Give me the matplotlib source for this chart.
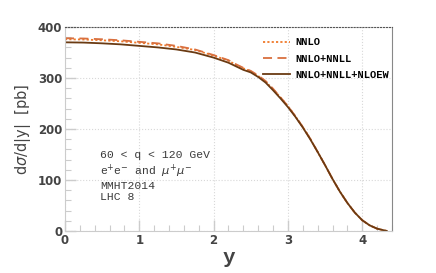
import matplotlib
matplotlib.use("Agg")
import matplotlib.pyplot as plt
from matplotlib.ticker import MultipleLocator

# rapidity points and cross sections (pb)
y = [0.0, 0.25, 0.5, 0.75, 1.0, 1.25, 1.5, 1.75, 2.0, 2.1, 2.2, 2.3, 2.4,
     2.5, 2.6, 2.7, 2.8, 2.9, 3.0, 3.1, 3.2, 3.3, 3.4, 3.5, 3.6, 3.7, 3.8,
     3.9, 4.0, 4.1, 4.2, 4.3, 4.33]
ew = [370, 369.5, 368, 366, 363, 360, 356, 350, 340, 335, 330, 323, 316,
      311, 302, 291, 276, 260, 243, 224, 203, 180, 155, 129, 102, 77, 55,
      36, 21, 11, 4.5, 1, 0]
nnlo = [376, 375.5, 374, 372, 369, 366, 361, 355, 344, 339, 334, 326, 319,
        313, 304, 293, 278, 262, 245, 225, 204, 181, 155, 129, 102, 77, 55,
        36, 21, 11, 4.5, 1, 0]
nnll = [378, 377.5, 376, 374, 371, 368, 363, 356, 345, 340, 335, 327, 320,
        314, 305, 294, 279, 262, 245, 225, 204, 181, 155, 129, 102, 77, 55,
        36, 21, 11, 4.5, 1, 0]

labels = ["NNLO", "NNLO+NNLL", "NNLO+NNLL+NLOEW"]
info = "60 < q < 120 GeV\ne$^{+}$e$^{-}$ and $\\mu^{+}\\mu^{-}$\nMMHT2014\nLHC 8"

fig = plt.figure(figsize=(4.36, 2.73), dpi=100)
ax = fig.add_axes([0.149, 0.154, 0.75, 0.747])

ax.plot(y, nnlo, color="#f07a2a", ls=(0, (1.2, 1.2)), lw=1.3, label=labels[0])
ax.plot(y, nnll, color="#d9703f", ls=(0, (5, 3)), lw=1.3, label=labels[1])
ax.plot(y, ew, color="#6a3a12", lw=1.3, label=labels[2])

ax.set_xlim(0, 4.4)
ax.set_ylim(0, 400)
ax.xaxis.set_major_locator(MultipleLocator(1))
ax.xaxis.set_minor_locator(MultipleLocator(0.2))
ax.yaxis.set_major_locator(MultipleLocator(100))
ax.yaxis.set_minor_locator(MultipleLocator(20))
ax.tick_params(which="both", direction="in", colors="#cccccc",
               labelcolor="#444444", labelsize=8.5, pad=2)
ax.tick_params(which="major", length=8, width=1)
ax.tick_params(which="minor", length=4, width=0.8)
for lab in ax.get_xticklabels() + ax.get_yticklabels():
    lab.set_fontweight("bold")
ax.grid(True, which="major", color="#d8d8d8", ls=":", lw=0.8)

ax.spines["left"].set_color("#cccccc")
ax.spines["bottom"].set_color("#cccccc")
ax.spines["right"].set_color("#888888")
ax.spines["top"].set_color("#555555")
ax.spines["top"].set_linestyle(":")

ax.set_xlabel("y", family="Liberation Mono", fontweight="bold",
              fontsize=15, color="#444444", labelpad=0)
ax.xaxis.set_label_coords(0.5, -0.085)
ax.set_ylabel(r"d$\sigma$/d|y|  [pb]", fontsize=10.5, color="#444444")
ax.yaxis.set_label_coords(-0.098, 0.5)

ax.text(0.108, 0.395, info, transform=ax.transAxes, family="Liberation Mono",
        fontsize=8.2, color="#3a3a3a", va="top", linespacing=1.15)

ax.legend(loc="upper right", bbox_to_anchor=(1.02, 0.995), frameon=False,
          prop={"family": "Liberation Mono", "weight": "bold", "size": 7.5},
          handlelength=2.6, handletextpad=0.5, labelspacing=0.6)

fig.savefig("out.png", dpi=100)
